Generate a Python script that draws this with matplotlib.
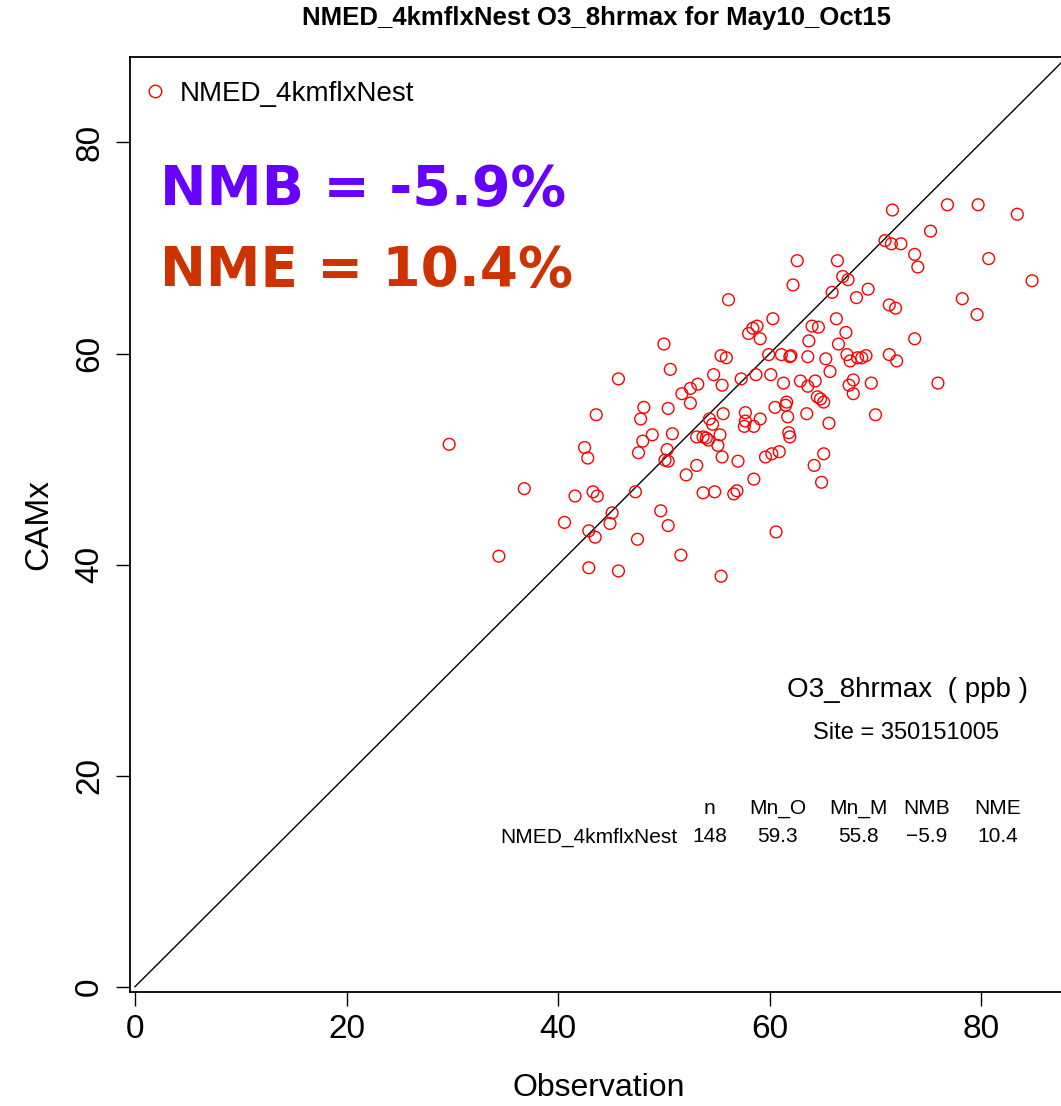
import numpy as np
import matplotlib.pyplot as plt
from matplotlib.lines import Line2D

obs = [29.7, 34.4, 36.8, 40.6, 41.6, 42.5, 42.8, 42.9, 42.9, 43.3,
       43.6, 43.7, 43.5, 44.9, 45.1, 45.7, 45.7, 47.3, 47.5, 47.6,
       47.8, 48.0, 48.1, 48.9, 49.7, 50.0, 50.1, 50.3, 50.4, 50.4,
       50.4, 50.6, 50.8, 51.6, 51.7, 52.1, 52.5, 52.5, 53.1, 53.1,
       53.2, 53.7, 53.7, 54.0, 54.2, 54.3, 54.6, 54.7, 54.8, 55.1,
       55.3, 55.4, 55.4, 55.5, 55.6, 55.5, 55.9, 56.1, 56.6, 56.9,
       57.0, 57.3, 57.6, 57.7, 57.7, 58.0, 58.4, 58.5, 58.5, 58.7,
       58.8, 59.1, 59.1, 59.6, 59.9, 60.1, 60.2, 60.3, 60.5, 60.6,
       60.9, 61.1, 61.3, 61.5, 61.6, 61.7, 61.8, 61.9, 61.9, 62.0,
       62.2, 62.6, 62.9, 63.5, 63.6, 63.7, 64.0, 64.2, 64.3, 64.5,
       64.6, 64.8, 64.9, 65.1, 65.1, 65.3, 65.6, 65.7, 65.9, 66.3,
       66.4, 66.5, 66.9, 67.2, 67.3, 67.4, 67.5, 67.6, 67.9, 67.9,
       68.2, 68.3, 68.7, 69.1, 69.3, 69.6, 70.0, 70.9, 71.3, 71.3,
       71.5, 71.6, 71.9, 72.0, 72.4, 73.7, 73.7, 74.0, 75.2, 75.9,
       76.8, 78.2, 79.6, 79.7, 80.7, 83.4, 84.8, 63.6]
mod = [51.4, 40.8, 47.2, 44.0, 46.5, 51.1, 50.1, 43.2, 39.7, 46.9,
       54.2, 46.5, 42.6, 43.9, 44.9, 57.6, 39.4, 46.9, 42.4, 50.6,
       53.8, 51.7, 54.9, 52.3, 45.1, 60.9, 49.9, 50.9, 49.8, 54.8,
       43.7, 58.5, 52.4, 40.9, 56.2, 48.5, 55.3, 56.7, 49.4, 52.1,
       57.1, 52.1, 46.8, 52.0, 51.8, 53.8, 53.3, 58.0, 46.9, 51.3,
       52.3, 38.9, 59.8, 50.2, 54.3, 57.0, 59.6, 65.1, 46.7, 47.0,
       49.8, 57.6, 53.1, 54.4, 53.6, 61.9, 62.4, 48.1, 53.1, 58.0,
       62.6, 53.8, 61.4, 50.2, 59.9, 58.0, 50.5, 63.3, 54.9, 43.1,
       50.7, 59.9, 57.2, 55.1, 55.4, 54.0, 52.5, 52.1, 59.7, 59.8,
       66.5, 68.8, 57.4, 54.3, 59.7, 61.2, 62.6, 49.4, 57.4, 55.9,
       62.5, 55.7, 47.8, 55.4, 50.5, 59.5, 53.4, 58.3, 65.8, 63.3,
       68.8, 60.9, 67.3, 62.0, 59.9, 67.0, 57.0, 59.3, 57.5, 56.2,
       65.3, 59.6, 59.6, 59.8, 66.1, 57.2, 54.2, 70.7, 64.6, 59.9,
       70.4, 73.6, 64.3, 59.3, 70.4, 61.4, 69.4, 68.2, 71.6, 57.2,
       74.1, 65.2, 63.7, 74.1, 69.0, 73.2, 66.9, 56.9]

run_name = 'NMED_4kmflxNest'
stat_names = ['n', 'Mn_O', 'Mn_M', 'NMB', 'NME']
stat_values = ['148', '59.3', '55.8', '\u22125.9', '10.4']
nmb_pct = -5.9
nme_pct = 10.4

PX = 10.58          # pixels per ppb, used only to place the text blocks
def dx(px):
    return (px - 135) / PX
def dy(py):
    return (986.7 - py) / 10.55

plt.rcParams['font.family'] = ['Liberation Sans', 'DejaVu Sans']

fig = plt.figure(figsize=(10.61, 11.06), dpi=100)
ax = fig.add_axes([130 / 1061, 114.3 / 1106, 937 / 1061, 934.7 / 1106])

ax.scatter(obs, mod, s=72, facecolors='none', edgecolors='red', linewidths=1.0,
           zorder=3)
ax.plot([0, 100], [0, 100], color='black', linewidth=1.0, zorder=2)

ax.set_xlim(-0.47, 88.1)
ax.set_ylim(-0.47, 88.1)
ax.set_xticks([0, 20, 40, 60, 80])
ax.set_yticks([0, 20, 40, 60, 80])
ax.tick_params(axis='both', direction='out', length=10, width=1.0, labelsize=24)
ax.tick_params(axis='x', pad=6)
ax.tick_params(axis='y', pad=8)
for lbl in ax.get_yticklabels():
    lbl.set_rotation(90)
    lbl.set_va('center')
for sp in ax.spines.values():
    sp.set_linewidth(1.3)

ax.set_xlabel('Observation', fontsize=23, labelpad=20)
ax.set_ylabel('CAMx', fontsize=24, labelpad=14)
fig.text(596 / 1061, 1 - 18 / 1106, f'{run_name} O3_8hrmax for May10_Oct15',
         ha='center', va='center', fontsize=18.5, fontweight='bold')

leg = ax.legend(handles=[Line2D([], [], marker='o', linestyle='none', markersize=9,
                                markerfacecolor='none', markeredgecolor='red',
                                markeredgewidth=1.0, label=run_name)],
                loc='upper left', bbox_to_anchor=(-0.009, 0.995), frameon=False,
                fontsize=20, handlelength=1.0, handletextpad=0.4, borderaxespad=0.3)

ax.text(dx(160), dy(190), f'NMB = {nmb_pct}%', color='#6600FF', fontsize=40,
        fontweight='bold', family='DejaVu Sans', ha='left', va='center')
ax.text(dx(160), dy(271), f'NME = {nme_pct}%', color='#CC3300', fontsize=39.5,
        fontweight='bold', family='DejaVu Sans', ha='left', va='center')

ax.text(dx(908), dy(690), 'O3_8hrmax  ( ppb )', fontsize=20, ha='center', va='center')
ax.text(dx(906), dy(733), 'Site = 350151005', fontsize=17, ha='center', va='center')

col_x = [710, 778, 859, 927, 998]
for cx, name, val in zip(col_x, stat_names, stat_values):
    ax.text(dx(cx), dy(809), name, fontsize=15, ha='center', va='center')
    ax.text(dx(cx), dy(837), val, fontsize=15, ha='center', va='center')
ax.text(dx(677), dy(837), run_name, fontsize=15, ha='right', va='center')

fig.savefig('out.png', dpi=100)
